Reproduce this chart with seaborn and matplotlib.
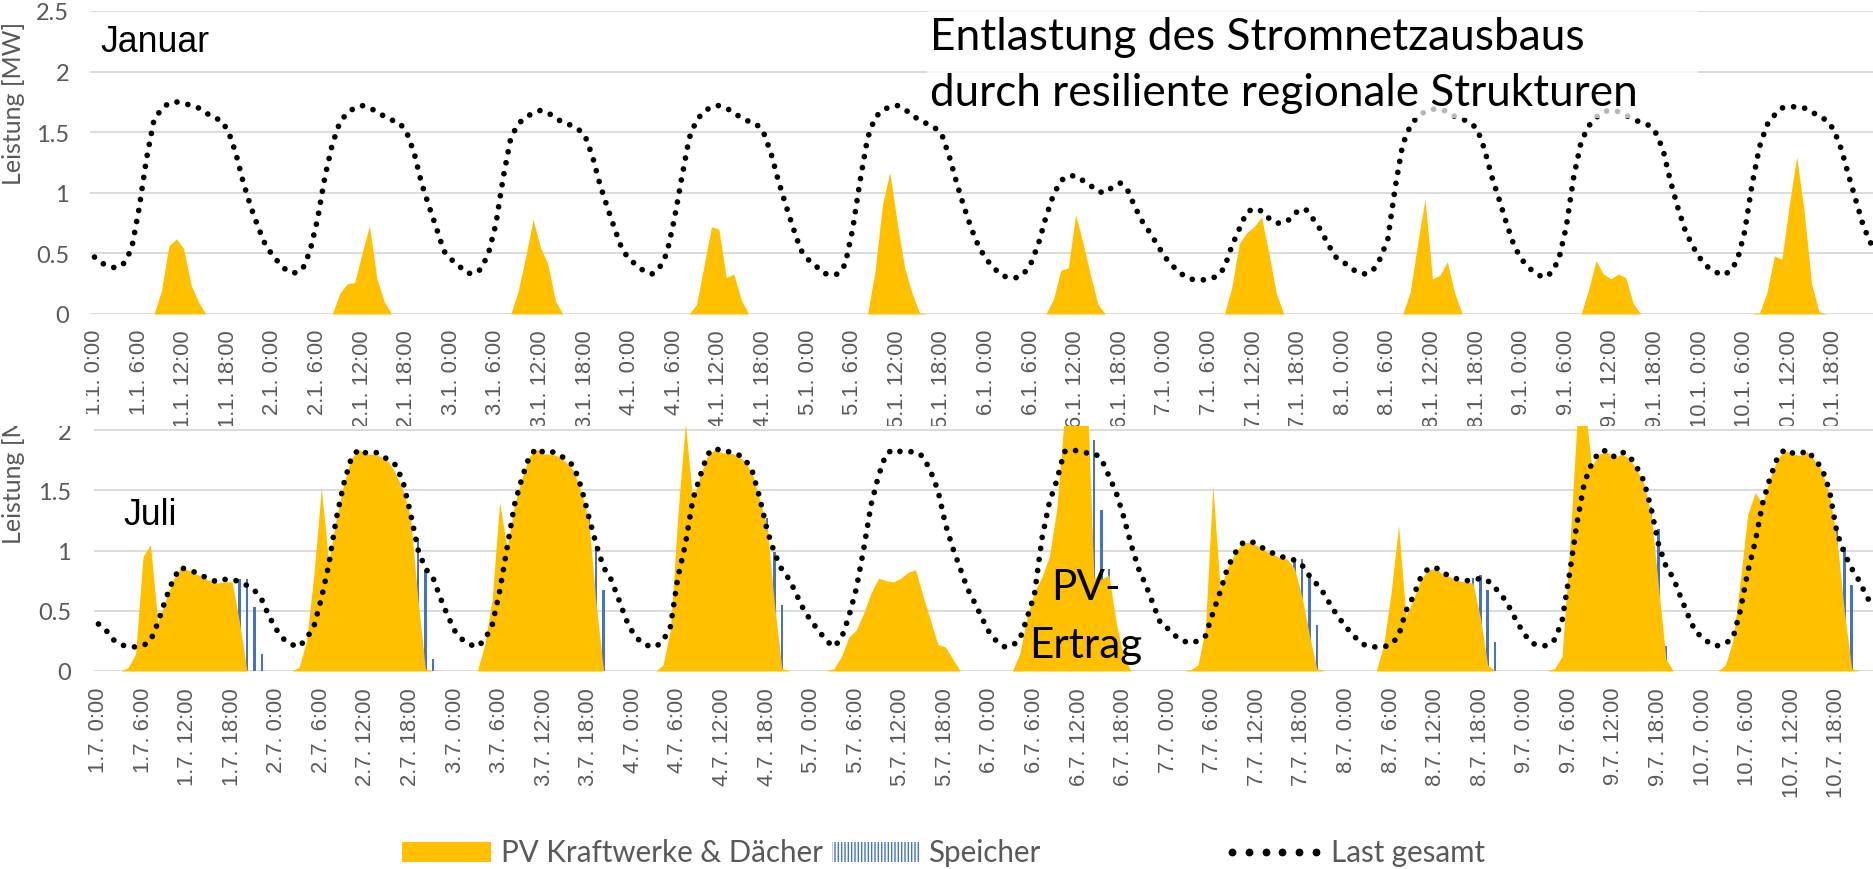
import numpy as np
import pandas as pd
import matplotlib
matplotlib.use("Agg")
import matplotlib.pyplot as plt
import seaborn as sns
from matplotlib.patches import Rectangle
from matplotlib.lines import Line2D

# ---------------- data (hourly values, MW) ----------------
days = list(range(1, 11))
tick_hours = [0, 6, 12, 18]

# January 1-10: total load
jan_load = [
    0.47, 0.42, 0.39, 0.38, 0.42, 0.54, 0.87, 1.28, 1.60, 1.69, 1.74, 1.75, 1.74, 1.72, 1.70, 1.66, 1.62, 1.60, 1.51, 1.33, 1.09, 0.89, 0.72, 0.57,
    0.48, 0.41, 0.35, 0.34, 0.37, 0.52, 0.78, 1.13, 1.40, 1.58, 1.66, 1.70, 1.72, 1.70, 1.67, 1.63, 1.60, 1.58, 1.50, 1.33, 1.08, 0.89, 0.71, 0.52,
    0.45, 0.40, 0.34, 0.33, 0.37, 0.50, 0.74, 1.13, 1.45, 1.57, 1.62, 1.66, 1.68, 1.66, 1.62, 1.58, 1.56, 1.53, 1.47, 1.30, 1.07, 0.88, 0.70, 0.53,
    0.45, 0.40, 0.35, 0.33, 0.38, 0.50, 0.78, 1.12, 1.45, 1.60, 1.67, 1.71, 1.72, 1.70, 1.66, 1.62, 1.59, 1.57, 1.50, 1.33, 1.10, 0.90, 0.71, 0.53,
    0.45, 0.40, 0.34, 0.32, 0.33, 0.41, 0.70, 1.10, 1.45, 1.62, 1.68, 1.71, 1.72, 1.69, 1.64, 1.60, 1.57, 1.54, 1.48, 1.30, 1.08, 0.88, 0.70, 0.55,
    0.45, 0.38, 0.32, 0.30, 0.30, 0.33, 0.42, 0.58, 0.80, 0.98, 1.10, 1.14, 1.14, 1.10, 1.06, 1.01, 1.00, 1.05, 1.08, 1.02, 0.88, 0.76, 0.67, 0.57,
    0.47, 0.40, 0.34, 0.30, 0.28, 0.28, 0.29, 0.31, 0.38, 0.56, 0.70, 0.84, 0.87, 0.85, 0.79, 0.75, 0.75, 0.79, 0.86, 0.86, 0.78, 0.69, 0.57, 0.47,
    0.43, 0.38, 0.34, 0.33, 0.36, 0.46, 0.62, 1.05, 1.40, 1.55, 1.63, 1.67, 1.69, 1.69, 1.67, 1.63, 1.61, 1.58, 1.53, 1.36, 1.13, 0.94, 0.74, 0.56,
    0.45, 0.38, 0.33, 0.30, 0.34, 0.45, 0.72, 1.13, 1.42, 1.55, 1.62, 1.67, 1.68, 1.67, 1.64, 1.61, 1.58, 1.56, 1.50, 1.36, 1.10, 0.88, 0.69, 0.56,
    0.46, 0.39, 0.35, 0.32, 0.35, 0.44, 0.68, 1.07, 1.38, 1.56, 1.64, 1.70, 1.71, 1.71, 1.70, 1.67, 1.63, 1.60, 1.52, 1.36, 1.14, 0.93, 0.72, 0.58,
]

# January 1-10: PV plants & roofs
jan_pv = [
    0, 0, 0, 0, 0, 0, 0, 0, 0, 0.19, 0.56, 0.62, 0.54, 0.24, 0.10, 0, 0, 0, 0, 0, 0, 0, 0, 0,
    0, 0, 0, 0, 0, 0, 0, 0, 0, 0.17, 0.25, 0.26, 0.50, 0.73, 0.29, 0.10, 0, 0, 0, 0, 0, 0, 0, 0,
    0, 0, 0, 0, 0, 0, 0, 0, 0, 0.19, 0.47, 0.78, 0.55, 0.41, 0.11, 0, 0, 0, 0, 0, 0, 0, 0, 0,
    0, 0, 0, 0, 0, 0, 0, 0, 0, 0.08, 0.40, 0.72, 0.70, 0.30, 0.33, 0.12, 0, 0, 0, 0, 0, 0, 0, 0,
    0, 0, 0, 0, 0, 0, 0, 0, 0, 0.35, 0.90, 1.17, 0.75, 0.38, 0.17, 0.01, 0, 0, 0, 0, 0, 0, 0, 0,
    0, 0, 0, 0, 0, 0, 0, 0, 0, 0.12, 0.36, 0.38, 0.82, 0.58, 0.32, 0.08, 0, 0, 0, 0, 0, 0, 0, 0,
    0, 0, 0, 0, 0, 0, 0, 0, 0, 0.22, 0.58, 0.67, 0.72, 0.80, 0.50, 0.17, 0, 0, 0, 0, 0, 0, 0, 0,
    0, 0, 0, 0, 0, 0, 0, 0, 0, 0.18, 0.58, 0.95, 0.29, 0.32, 0.43, 0.17, 0, 0, 0, 0, 0, 0, 0, 0,
    0, 0, 0, 0, 0, 0, 0, 0, 0, 0.20, 0.44, 0.33, 0.29, 0.33, 0.30, 0.09, 0, 0, 0, 0, 0, 0, 0, 0,
    0, 0, 0, 0, 0, 0, 0, 0, 0.01, 0.18, 0.48, 0.45, 0.90, 1.30, 0.85, 0.25, 0.02, 0, 0, 0, 0, 0, 0, 0,
]

# July 1-10: total load
jul_load = [
    0.39, 0.34, 0.26, 0.22, 0.20, 0.20, 0.21, 0.25, 0.40, 0.59, 0.75, 0.86, 0.84, 0.82, 0.79, 0.76, 0.74, 0.76, 0.76, 0.74, 0.71, 0.67, 0.59, 0.45,
    0.34, 0.26, 0.22, 0.20, 0.27, 0.37, 0.60, 0.88, 1.26, 1.55, 1.76, 1.84, 1.81, 1.82, 1.80, 1.75, 1.71, 1.57, 1.31, 1.01, 0.85, 0.78, 0.61, 0.46,
    0.33, 0.26, 0.22, 0.20, 0.26, 0.38, 0.66, 1.02, 1.38, 1.60, 1.78, 1.85, 1.81, 1.82, 1.80, 1.75, 1.70, 1.52, 1.28, 1.05, 0.86, 0.76, 0.60, 0.43,
    0.31, 0.24, 0.21, 0.20, 0.25, 0.37, 0.78, 1.05, 1.42, 1.62, 1.80, 1.85, 1.82, 1.82, 1.80, 1.76, 1.66, 1.44, 1.17, 0.98, 0.84, 0.76, 0.63, 0.50,
    0.41, 0.33, 0.25, 0.20, 0.27, 0.45, 0.68, 1.01, 1.38, 1.62, 1.80, 1.84, 1.82, 1.82, 1.82, 1.78, 1.66, 1.50, 1.22, 1.02, 0.85, 0.68, 0.56, 0.43,
    0.31, 0.24, 0.20, 0.21, 0.26, 0.44, 0.64, 1.10, 1.40, 1.58, 1.82, 1.84, 1.82, 1.81, 1.81, 1.76, 1.62, 1.48, 1.28, 1.05, 0.85, 0.71, 0.55, 0.39,
    0.35, 0.29, 0.25, 0.23, 0.25, 0.29, 0.48, 0.66, 0.86, 0.98, 1.06, 1.08, 1.05, 1.01, 0.98, 0.95, 0.94, 0.92, 0.88, 0.79, 0.72, 0.64, 0.53, 0.44,
    0.36, 0.29, 0.23, 0.20, 0.20, 0.20, 0.22, 0.29, 0.50, 0.62, 0.78, 0.85, 0.86, 0.81, 0.79, 0.76, 0.75, 0.75, 0.77, 0.75, 0.69, 0.62, 0.52, 0.40,
    0.30, 0.23, 0.21, 0.21, 0.26, 0.41, 0.80, 1.22, 1.56, 1.72, 1.82, 1.83, 1.78, 1.82, 1.79, 1.70, 1.58, 1.35, 1.05, 0.87, 0.77, 0.61, 0.46, 0.32,
    0.28, 0.22, 0.21, 0.23, 0.27, 0.50, 0.82, 1.07, 1.39, 1.60, 1.77, 1.84, 1.81, 1.80, 1.83, 1.76, 1.68, 1.50, 1.15, 0.98, 0.85, 0.75, 0.62, 0.52,
]

# July 1-10: PV plants & roofs
jul_pv = [
    0, 0, 0, 0, 0.03, 0.14, 0.95, 1.05, 0.40, 0.58, 0.75, 0.85, 0.84, 0.81, 0.78, 0.75, 0.73, 0.74, 0.74, 0.40, 0, 0, 0, 0,
    0, 0, 0, 0.03, 0.25, 0.80, 1.52, 0.90, 1.26, 1.55, 1.76, 1.84, 1.80, 1.80, 1.78, 1.74, 1.64, 1.50, 1.28, 0.60, 0.02, 0, 0, 0,
    0, 0, 0, 0, 0.22, 0.60, 1.40, 1.02, 1.38, 1.60, 1.78, 1.84, 1.80, 1.80, 1.78, 1.73, 1.66, 1.48, 1.25, 0.55, 0, 0, 0, 0,
    0, 0, 0, 0, 0.05, 0.35, 1.30, 2.06, 1.42, 1.62, 1.79, 1.84, 1.81, 1.81, 1.79, 1.74, 1.64, 1.42, 1.20, 0.55, 0.02, 0, 0, 0,
    0, 0, 0, 0.02, 0.12, 0.28, 0.34, 0.48, 0.65, 0.77, 0.75, 0.74, 0.77, 0.82, 0.84, 0.62, 0.42, 0.22, 0.20, 0.10, 0, 0, 0, 0,
    0, 0, 0, 0, 0.14, 0.45, 0.66, 0.78, 0.95, 1.35, 2.10, 2.40, 2.50, 2.45, 0.78, 0.76, 0.80, 0.40, 0.12, 0, 0, 0, 0, 0,
    0, 0, 0, 0.01, 0.05, 0.35, 1.54, 0.68, 0.86, 0.98, 1.06, 1.07, 1.04, 1.00, 0.97, 0.94, 0.93, 0.85, 0.62, 0.30, 0.02, 0, 0, 0,
    0, 0, 0, 0, 0, 0.22, 0.65, 1.21, 0.45, 0.60, 0.76, 0.84, 0.85, 0.80, 0.78, 0.75, 0.74, 0.73, 0.45, 0.05, 0, 0, 0, 0,
    0, 0, 0, 0, 0.02, 0.12, 1.00, 2.05, 2.25, 1.70, 1.80, 1.82, 1.77, 1.80, 1.77, 1.68, 1.56, 1.30, 0.70, 0.10, 0, 0, 0, 0,
    0, 0, 0, 0.05, 0.25, 0.75, 1.30, 1.48, 1.39, 1.60, 1.76, 1.83, 1.80, 1.79, 1.82, 1.75, 1.66, 1.46, 1.10, 0.50, 0.02, 0, 0, 0,
]

# July 1-10: storage discharge
jul_storage = [
    0, 0, 0, 0, 0, 0, 0, 0, 0, 0, 0, 0, 0, 0, 0, 0, 0, 0, 0, 0.76, 0.76, 0.53, 0.14, 0,
    0, 0, 0, 0, 0, 0, 0, 0, 0, 0, 0, 0, 0, 0, 0, 0, 0, 0, 0, 1.10, 0.84, 0.10, 0, 0,
    0, 0, 0, 0, 0, 0, 0, 0, 0, 0, 0, 0, 0, 0, 0, 0, 0, 0, 1.30, 1.04, 0.67, 0, 0, 0,
    0, 0, 0, 0, 0, 0, 0, 0, 0, 0, 0, 0, 0, 0, 0, 0, 0, 0, 1.27, 0.99, 0.55, 0, 0, 0,
    0, 0, 0, 0, 0, 0, 0, 0, 0, 0, 0, 0, 0, 0, 0, 0, 0, 0, 0, 0, 0, 0, 0, 0,
    0, 0, 0, 0, 0, 0, 0, 0, 0, 0, 0, 0, 0, 0, 1.92, 1.34, 0.85, 0, 0, 0, 0, 0, 0, 0,
    0, 0, 0, 0, 0, 0, 0, 0, 0, 0, 0, 0, 0, 0, 0, 0, 0, 0.92, 0.93, 0.80, 0.38, 0, 0, 0,
    0, 0, 0, 0, 0, 0, 0, 0, 0, 0, 0, 0, 0, 0, 0, 0, 0, 0.77, 0.80, 0.67, 0.24, 0, 0, 0,
    0, 0, 0, 0, 0, 0, 0, 0, 0, 0, 0, 0, 0, 0, 0, 0, 0, 1.36, 1.18, 0.21, 0, 0, 0, 0,
    0, 0, 0, 0, 0, 0, 0, 0, 0, 0, 0, 0, 0, 0, 0, 0, 0, 0, 1.20, 1.03, 0.71, 0, 0, 0,
]

jan_yticks = [0, 0.5, 1, 1.5, 2, 2.5]
jul_yticks = [0, 0.5, 1, 1.5, 2]
title_lines = ["Entlastung des Stromnetzausbaus", "durch resiliente regionale Strukturen"]
legend_labels = ["PV Kraftwerke & Dächer", "Speicher", "Last gesamt"]

# ---------------- style ----------------
sns.set_theme(style="white")
plt.rcParams['font.family'] = ['Lato', 'DejaVu Sans']
plt.rcParams['hatch.linewidth'] = 1.0

PV_COL = '#FFC000'
ST_COL = '#4472C4'
GREY = '#595959'
GRID = '#D9D9D9'
TICK_FONT = ['Liberation Sans', 'DejaVu Sans']

W, H = 1874, 870
fig = plt.figure(figsize=(W / 100, H / 100), dpi=100)
fig.patch.set_facecolor('white')


def fx(px):
    return px / W


def fy(py):
    return 1 - py / H


hours = np.arange(240)
jan = pd.DataFrame({'h': hours, 'load': jan_load, 'pv': jan_pv})
jul = pd.DataFrame({'h': hours, 'load': jul_load, 'pv': jul_pv, 'st': jul_storage})

ax_top = fig.add_axes([fx(90), fy(315), fx(1784), (315 - 12) / H], zorder=0)
ax_bot = fig.add_axes([fx(94), fy(672), fx(1780), (672 - 427.4) / H], zorder=1)

dot_style = dict(color='black', lw=4.1, linestyle=(0, (0.01, 1.95)),
                 dash_capstyle='round')


def style_axes(ax, yticks, ylim, month, pad_x, pad_y):
    ax.set_facecolor('white')
    for s in ax.spines.values():
        s.set_visible(False)
    ax.set_xlim(-0.6, 239.4 if month == 1 else 239.0)
    ax.set_ylim(*ylim)
    ax.set_yticks(yticks)
    ax.set_yticklabels([f"{t:g}" for t in yticks])
    ax.set_xticks(np.arange(0, 240, 6))
    ax.set_xticklabels([f"{d}.{month}. {h}:00" for d in days for h in tick_hours],
                       rotation=90, fontfamily=TICK_FONT, fontsize=15.8, color=GREY)
    ax.tick_params(axis='x', length=0, pad=pad_x)
    ax.tick_params(axis='y', length=0, pad=pad_y, labelsize=17, labelcolor=GREY)
    ax.grid(axis='y', color=GRID, lw=1.3)
    ax.grid(axis='x', visible=False)
    ax.set_axisbelow(True)
    ax.set_xlabel('')
    ax.set_ylabel('')


# January panel
ax_top.fill_between(jan['h'], 0, jan['pv'], color=PV_COL, lw=0, zorder=2)
sns.lineplot(data=jan, x='h', y='load', ax=ax_top, zorder=3, **dot_style)
style_axes(ax_top, jan_yticks, (0, 2.5), 1, 10.8, 15)

# July panel
ax_bot.bar(jul['h'], jul['st'], width=0.34, color=ST_COL, lw=0, zorder=1.5)
ax_bot.fill_between(jul['h'], 0, jul['pv'], color=PV_COL, lw=0, zorder=2)
sns.lineplot(data=jul, x='h', y='load', ax=ax_bot, zorder=3, **dot_style)
style_axes(ax_bot, jul_yticks, (0, 2.03), 7, 11.5, 16.5)

# background of the lower chart hides the end of the upper tick labels
fig.add_artist(Rectangle((0, 0), 1, fy(427), transform=fig.transFigure,
                         fc='white', lw=0, zorder=0.5))

# axis titles
fig.text(fx(14), fy(103), "Leistung [MW]", rotation=90, ha='center', va='center',
         fontsize=18, color=GREY, zorder=3)
fig.text(fx(14), fy(462), "Leistung [MW]", rotation=90, ha='center', va='center',
         fontsize=18, color=GREY, zorder=3)
fig.add_artist(Rectangle((0, fy(427)), fx(86), (427 - 372) / H, transform=fig.transFigure,
                         fc='white', lw=0, zorder=10))

# translucent box behind the headline
fig.add_artist(Rectangle((fx(927), fy(119)), fx(1698 - 927), 119 / H,
                         transform=fig.transFigure, fc='white', alpha=0.72, lw=0, zorder=4))

renderer = fig.canvas.get_renderer()


def fit(t, width_px):
    w = t.get_window_extent(renderer).width
    t.set_fontsize(t.get_fontsize() * width_px / w)


t1 = fig.text(fx(930), fy(50), title_lines[0], ha='left', va='baseline',
              fontsize=28, color='black', zorder=5)
t2 = fig.text(fx(930), fy(106), title_lines[1], ha='left', va='baseline',
              fontsize=28, color='black', zorder=5)
fit(t1, 654)
fit(t2, 707)

tj = fig.text(fx(100), fy(52), "Januar", ha='left', va='baseline',
              fontfamily=TICK_FONT, fontsize=24, color='black', zorder=5)
fit(tj, 109)
fig.text(fx(123), fy(525), "Juli", ha='left', va='baseline',
         fontfamily=TICK_FONT, fontsize=tj.get_fontsize(), color='black', zorder=5)

te = fig.text(fx(1086), fy(658), "Ertrag", ha='center', va='baseline',
              fontsize=30, color='black', zorder=5)
fit(te, 113)
fig.text(fx(1086), fy(600), "PV-", ha='center', va='baseline',
         fontsize=te.get_fontsize(), color='black', zorder=5)

# legend
fig.add_artist(Rectangle((fx(402), fy(863)), fx(89), 20 / H, transform=fig.transFigure,
                         fc=PV_COL, lw=0, zorder=5))
fig.add_artist(Rectangle((fx(832), fy(863)), fx(88), 20 / H, transform=fig.transFigure,
                         fc='white', ec=ST_COL, hatch='|||||', lw=0, zorder=5))
fig.add_artist(Line2D([fx(x) for x in np.linspace(1232, 1316, 6)], [fy(853)] * 6,
                      transform=fig.transFigure, ls='none', marker='o', ms=4.6,
                      color='black', zorder=5))
lg1 = fig.text(fx(501), fy(853), legend_labels[0], ha='left', va='center',
               fontsize=20, color=GREY, zorder=5)
fit(lg1, 322)
fs = lg1.get_fontsize()
fig.text(fx(928), fy(853), legend_labels[1], ha='left', va='center', fontsize=fs, color=GREY, zorder=5)
fig.text(fx(1331), fy(853), legend_labels[2], ha='left', va='center', fontsize=fs, color=GREY, zorder=5)

fig.savefig("out.png", dpi=100, facecolor='white')
